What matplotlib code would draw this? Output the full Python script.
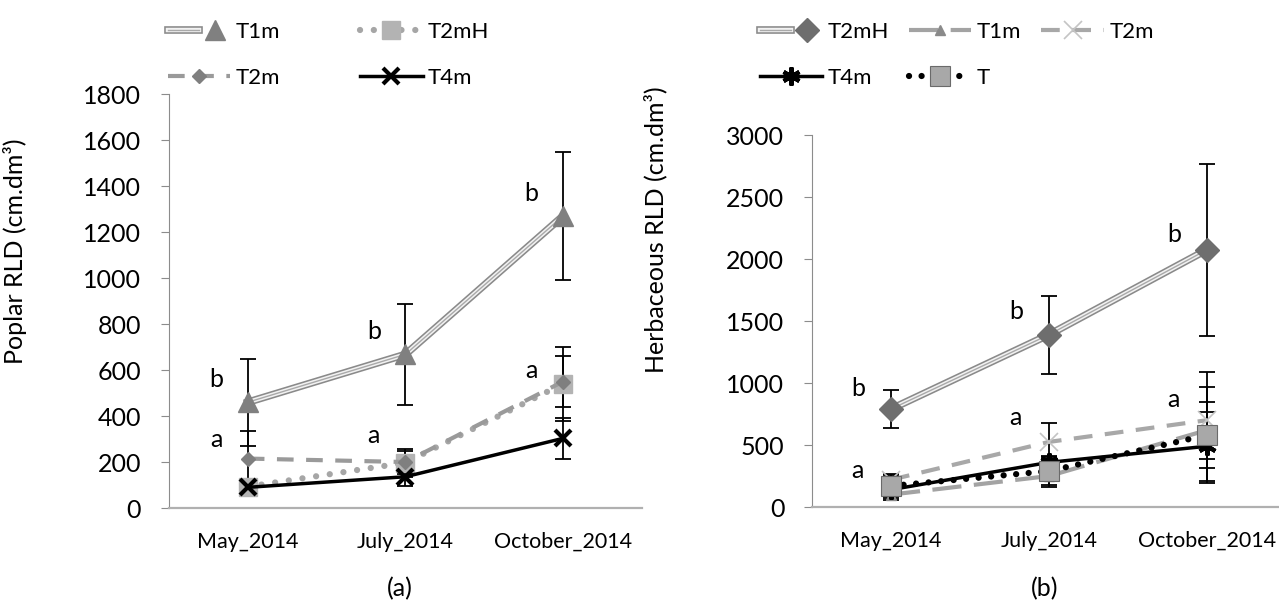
import matplotlib
matplotlib.use("Agg")
import matplotlib.pyplot as plt
import matplotlib.patheffects as pe
from matplotlib.legend_handler import HandlerTuple

plt.rcParams['font.family'] = ['Lato', 'DejaVu Sans']

# ---------------- data ----------------
dates = ["May_2014", "July_2014", "October_2014"]

# Poplar RLD (panel a)
pop_T1m = [460, 668, 1270]
pop_T1m_err = [190, 218, 280]
pop_T2mH = [93, 197, 540]
pop_T2mH_err = [20, 60, 160]
pop_T2m = [215, 200, 550]
pop_T2m_err = [120, 50, 110]
pop_T4m = [90, 136, 303]
pop_T4m_err = [15, 40, 90]
pop_letters = [("b", 0, 557), ("a", 0, 296), ("b", 1, 767), ("a", 1, 317),
               ("b", 2, 1368), ("a", 2, 600)]

# Herbaceous RLD (panel b)
herb_T2mH = [790, 1390, 2075]
herb_T2mH_err = [150, 315, 695]
herb_T1m = [100, 250, 620]
herb_T1m_err = [40, 90, 230]
herb_T2m = [220, 525, 700]
herb_T2m_err = [40, 150, 385]
herb_T4m = [140, 360, 490]
herb_T4m_err = [30, 50, 280]
herb_T = [170, 290, 580]
herb_T_err = [95, 110, 390]
herb_letters = [("b", 0, 957), ("a", 0, 298), ("b", 1, 1575), ("a", 1, 723),
                ("b", 2, 2194), ("a", 2, 863)]

x = list(range(len(dates)))

fig = plt.figure(figsize=(12.79, 6.03), dpi=100)
axA = fig.add_axes([0.1321, 0.1575, 0.3698, 0.6866])
axB = fig.add_axes([0.6349, 0.1592, 0.3706, 0.6169])

AXIS_GREY = "#8c8c8c"


def style_axes(ax, ymax, step, ylabel, label_xy):
    ax.set_xlim(-0.5, 2.5)
    ax.set_ylim(0, ymax)
    ax.set_yticks(range(0, ymax + 1, step))
    ax.set_xticks(x)
    ax.set_xticklabels(dates, fontsize=15.5)
    for s in ("top", "right"):
        ax.spines[s].set_visible(False)
    ax.spines["left"].set_color(AXIS_GREY)
    ax.spines["bottom"].set_color("#b0b0b0")
    ax.spines["bottom"].set_linewidth(1.6)
    ax.tick_params(axis="y", direction="out", length=6, color=AXIS_GREY,
                   labelsize=18, pad=14)
    ax.tick_params(axis="x", length=0, pad=17)
    ax.set_ylabel(ylabel, fontsize=18)
    ax.yaxis.set_label_coords(*label_xy)


def double_line(ax, xs, ys, z=3):
    # three-stroke compound line (grey rims, pale core)
    ln, = ax.plot(xs, ys, color="#a9a9a9", lw=1.0, zorder=z,
                  path_effects=[pe.Stroke(linewidth=5.5, foreground="#8a8a8a"),
                                pe.Stroke(linewidth=3.2, foreground="#f2f2f2"),
                                pe.Normal()])
    return ln


def errs(ax, ys, e):
    ax.errorbar(x, ys, yerr=e, fmt="none", ecolor="black", elinewidth=1.3,
                capsize=5.5, capthick=1.3, zorder=2)


# ---------------- panel (a) ----------------
for ys, e in [(pop_T1m, pop_T1m_err), (pop_T2mH, pop_T2mH_err),
              (pop_T2m, pop_T2m_err), (pop_T4m, pop_T4m_err)]:
    errs(axA, ys, e)

a_t1_line = double_line(axA, x, pop_T1m)
a_t1_mk, = axA.plot(x, pop_T1m, ls="none", marker="^", ms=15,
                    color="#808080", zorder=6)
a_t2mh, = axA.plot(x, pop_T2mH, color="#a6a6a6", lw=4.5, ls=(0, (0.01, 2.2)),
                   dash_capstyle="round", marker="s", ms=13, mfc="#b3b3b3",
                   mec="#b3b3b3", zorder=4)
a_t2m, = axA.plot(x, pop_T2m, color="#9a9a9a", lw=3, ls=(0, (4, 3)),
                  marker="D", ms=7, mfc="#7f7f7f", mec="#7f7f7f", zorder=4)
a_t4m, = axA.plot(x, pop_T4m, color="black", lw=2.5, marker="x", ms=11,
                  mew=3, zorder=5)

for txt, xi, yv in pop_letters:
    axA.text(xi - 0.2, yv, txt, fontsize=18, ha="center", va="center")

style_axes(axA, 1800, 200, "Poplar RLD (cm.dm³)", (-0.30, 0.62))

# legend entries listed column by column: (T1m, T2m) | (T2mH, T4m)
legA = fig.legend(
    [(a_t1_line, a_t1_mk), a_t2m, a_t2mh, a_t4m],
    ["T1m", "T2m", "T2mH", "T4m"],
    handler_map={tuple: HandlerTuple(ndivide=None)},
    loc="upper left", bbox_to_anchor=(168 / 1279, 1 - 22 / 603), ncol=2,
    frameon=False, fontsize=16, handlelength=2.8, handletextpad=0.25,
    columnspacing=3.6, labelspacing=1.15, borderpad=0, borderaxespad=0)

# ---------------- panel (b) ----------------
for ys, e in [(herb_T2mH, herb_T2mH_err), (herb_T1m, herb_T1m_err),
              (herb_T2m, herb_T2m_err), (herb_T4m, herb_T4m_err),
              (herb_T, herb_T_err)]:
    errs(axB, ys, e)

b_t2mh_line = double_line(axB, x, herb_T2mH)
b_t2mh_mk, = axB.plot(x, herb_T2mH, ls="none", marker="D", ms=12.5,
                      color="#6e6e6e", zorder=6)
b_t1m, = axB.plot(x, herb_T1m, color="#a3a3a3", lw=3, ls=(0, (7, 3)),
                  marker="^", ms=7, mfc="#8a8a8a", mec="#8a8a8a", zorder=3)
b_t2m, = axB.plot(x, herb_T2m, color="#a8a8a8", lw=3, ls=(0, (4.5, 3)),
                  marker="x", ms=13, mew=1.2, mec="#c4c4c4", zorder=3)
b_t4m, = axB.plot(x, herb_T4m, color="black", lw=2.5, marker=(6, 2, 0),
                  ms=13, mew=3, zorder=4)
b_t, = axB.plot(x, herb_T, color="black", lw=4.5, ls=(0, (0.01, 2.0)),
                dash_capstyle="round", marker="s", ms=14, mfc="#a8a8a8",
                mec="#6a6a6a", mew=0.8, zorder=5)

for txt, xi, yv in herb_letters:
    axB.text(xi - 0.21, yv, txt, fontsize=18, ha="center", va="center")

style_axes(axB, 3000, 500, "Herbaceous RLD (cm.dm³)", (-0.306, 0.745))

# column by column: (T2mH, T4m) | (T1m, T) | (T2m)
legB = fig.legend(
    [(b_t2mh_line, b_t2mh_mk), b_t4m, b_t1m, b_t, b_t2m],
    ["T2mH", "T4m", "T1m", "T", "T2m"],
    handler_map={tuple: HandlerTuple(ndivide=None)},
    loc="upper left", bbox_to_anchor=(760 / 1279, 1 - 22 / 603), ncol=3,
    frameon=False, fontsize=16, handlelength=2.8, handletextpad=0.25,
    columnspacing=0.9, labelspacing=1.15, borderpad=0, borderaxespad=0)

fig.text(400 / 1279, 1 - 589 / 603, "(a)", fontsize=18, ha="center", va="center")
fig.text(1045 / 1279, 1 - 589 / 603, "(b)", fontsize=18, ha="center", va="center")

fig.savefig("out.png", dpi=100)
